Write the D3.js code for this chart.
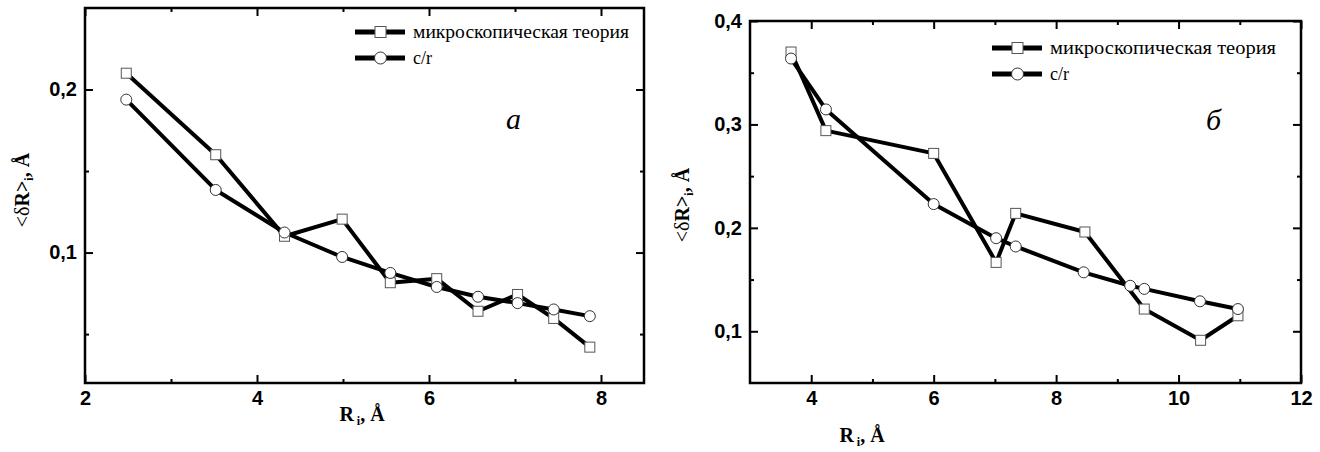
<!DOCTYPE html>
<html>
<head>
<meta charset="utf-8">
<script src="https://cdn.jsdelivr.net/npm/d3@7"></script>
<style>
  body { margin: 0; background: white; }
  svg { display: block; }
</style>
</head>
<body>
<svg id="chart" width="1320" height="452"></svg>
<script>
// panel a
const xA = [2.48, 3.52, 4.32, 4.99, 5.55, 6.09, 6.57, 7.03, 7.45, 7.87];
const microA = [0.210, 0.160, 0.110, 0.1205, 0.0815, 0.084, 0.064, 0.0743, 0.0596, 0.042];
const crA = [0.1938, 0.1384, 0.1123, 0.0973, 0.0875, 0.0789, 0.0729, 0.069, 0.0651, 0.061];

// panel b
const xMicroB = [3.67, 4.24, 6.0, 7.02, 7.34, 8.47, 9.44, 10.36, 10.97];
const microB = [0.370, 0.294, 0.272, 0.1666, 0.214, 0.196, 0.1215, 0.0913, 0.115];
const xCrB = [3.67, 4.24, 6.0, 7.02, 7.34, 8.45, 9.21, 9.44, 10.35, 10.97];
const crB = [0.3637, 0.3145, 0.223, 0.190, 0.182, 0.157, 0.144, 0.141, 0.129, 0.1215];

const legendLabels = ["микроскопическая теория", "c/r"];

const xTicksA = [2, 4, 6, 8], xMinorA = [3, 5, 7];
const yTicksA = [0.1, 0.2], yMinorA = [0.05, 0.15];
const xTicksB = [4, 6, 8, 10, 12], xMinorB = [5, 7, 9, 11];
const yTicksB = [0.1, 0.2, 0.3, 0.4], yMinorB = [0.15, 0.25, 0.35];

const svg = d3.select("#chart");
const fmt = d => d3.format(".1f")(d).replace(".", ",");

function drawPanel(p) {
    const g = svg.append("g");
    const x = d3.scaleLinear().domain(p.xDomain).range([p.left, p.right]);
    const y = d3.scaleLinear().domain(p.yDomain).range([p.bottom, p.top]);

    // axes with inward ticks
    const styleAxis = sel => {
        sel.select(".domain").remove();
        sel.selectAll("line").attr("stroke", "#000").attr("stroke-width", 2);
        sel.selectAll("text")
            .style("font-family", "'Liberation Sans', Arial, sans-serif")
            .style("font-weight", "bold")
            .style("font-size", "20px")
            .attr("fill", "#000");
    };

    g.append("g").attr("transform", `translate(0,${p.bottom})`)
        .call(d3.axisBottom(x).tickValues(p.xTicks).tickSize(-8).tickPadding(8).tickFormat(d3.format("d")))
        .call(styleAxis);
    g.append("g").attr("transform", `translate(0,${p.bottom})`)
        .call(d3.axisBottom(x).tickValues(p.xMinor).tickSize(-4).tickFormat(""))
        .call(styleAxis);
    g.append("g").attr("transform", `translate(0,${p.top})`)
        .call(d3.axisTop(x).tickValues(p.xTicks).tickSize(-8).tickFormat(""))
        .call(styleAxis);
    g.append("g").attr("transform", `translate(0,${p.top})`)
        .call(d3.axisTop(x).tickValues(p.xMinor).tickSize(-4).tickFormat(""))
        .call(styleAxis);
    g.append("g").attr("transform", `translate(${p.left},0)`)
        .call(d3.axisLeft(y).tickValues(p.yTicks).tickSize(-8).tickPadding(8).tickFormat(fmt))
        .call(styleAxis);
    g.append("g").attr("transform", `translate(${p.left},0)`)
        .call(d3.axisLeft(y).tickValues(p.yMinor).tickSize(-4).tickFormat(""))
        .call(styleAxis);
    g.append("g").attr("transform", `translate(${p.right},0)`)
        .call(d3.axisRight(y).tickValues(p.yTicks).tickSize(-8).tickFormat(""))
        .call(styleAxis);
    g.append("g").attr("transform", `translate(${p.right},0)`)
        .call(d3.axisRight(y).tickValues(p.yMinor).tickSize(-4).tickFormat(""))
        .call(styleAxis);

    // frame
    g.append("rect")
        .attr("x", p.left).attr("y", p.top)
        .attr("width", p.right - p.left).attr("height", p.bottom - p.top)
        .attr("fill", "none").attr("stroke", "#000").attr("stroke-width", 2.5);

    const line = d3.line().x(d => x(d[0])).y(d => y(d[1]));
    const microPts = p.xMicro.map((v, i) => [v, p.micro[i]]);
    const crPts = p.xCr.map((v, i) => [v, p.cr[i]]);

    g.append("path").datum(microPts).attr("d", line)
        .attr("fill", "none").attr("stroke", "#000").attr("stroke-width", 4).attr("stroke-linejoin", "round");
    g.append("path").datum(crPts).attr("d", line)
        .attr("fill", "none").attr("stroke", "#000").attr("stroke-width", 4).attr("stroke-linejoin", "round");

    g.selectAll("rect.sq").data(microPts).enter().append("rect")
        .attr("class", "sq")
        .attr("x", d => x(d[0]) - 5).attr("y", d => y(d[1]) - 5)
        .attr("width", 10).attr("height", 10)
        .attr("fill", "white").attr("stroke", "#555").attr("stroke-width", 1);
    g.selectAll("circle.ci").data(crPts).enter().append("circle")
        .attr("class", "ci")
        .attr("cx", d => x(d[0])).attr("cy", d => y(d[1])).attr("r", 5.5)
        .attr("fill", "white").attr("stroke", "#333").attr("stroke-width", 1);

    // legend
    const lg = g.append("g").attr("transform", `translate(${p.legX},${p.legY})`);
    [0, 1].forEach(i => {
        const yy = i * 26;
        lg.append("line").attr("x1", 0).attr("x2", 50).attr("y1", yy).attr("y2", yy)
            .attr("stroke", "#000").attr("stroke-width", 5);
        if (i === 0) {
            lg.append("rect").attr("x", 20).attr("y", yy - 5.5).attr("width", 11).attr("height", 11)
                .attr("fill", "white").attr("stroke", "#555").attr("stroke-width", 1);
        } else {
            lg.append("circle").attr("cx", 25.5).attr("cy", yy).attr("r", 6)
                .attr("fill", "white").attr("stroke", "#333").attr("stroke-width", 1);
        }
        const t = lg.append("text").attr("x", 58).attr("y", yy + 6)
            .style("font-family", "'Liberation Serif', 'Times New Roman', serif")
            .style("font-size", "18px")
            .text(legendLabels[i]);
        if (i === 0) t.attr("textLength", p.legW).attr("lengthAdjust", "spacingAndGlyphs");
    });

    // panel letter
    g.append("text").attr("x", p.letterX).attr("y", p.letterY)
        .style("font-family", "'Liberation Serif', 'Times New Roman', serif")
        .style("font-style", "italic")
        .style("font-size", "30px")
        .text(p.letter);

    // x title
    const xt = g.append("text").attr("x", p.xTitleX).attr("y", p.xTitleY)
        .attr("text-anchor", "middle")
        .style("font-family", "'Liberation Serif', 'Times New Roman', serif")
        .style("font-weight", "bold").style("font-size", "20px");
    xt.append("tspan").text("R");
    xt.append("tspan").attr("dy", 4).style("font-size", "12px").text(" i");
    xt.append("tspan").attr("dy", -4).text(", Å");

    // y title
    const yt = g.append("text")
        .attr("transform", `translate(${p.yTitleX},${p.yTitleY}) rotate(-90)`)
        .attr("text-anchor", "middle")
        .style("font-family", "'Liberation Serif', 'Times New Roman', serif")
        .style("font-weight", "bold").style("font-size", "20px");
    yt.append("tspan").style("font-weight", "normal").text("<δ");
    yt.append("tspan").text("R>");
    yt.append("tspan").attr("dy", 4).style("font-size", "12px").text("i");
    yt.append("tspan").attr("dy", -4).text(", Å");
}

drawPanel({
    xDomain: [2, 8.5], yDomain: [0.02, 0.25],
    left: 85, right: 644, top: 8, bottom: 383,
    xTicks: xTicksA, xMinor: xMinorA, yTicks: yTicksA, yMinor: yMinorA,
    xMicro: xA, micro: microA, xCr: xA, cr: crA,
    legX: 355, legY: 32, legW: 216,
    letter: "а", letterX: 506, letterY: 129,
    xTitleX: 362, xTitleY: 421, yTitleX: 29, yTitleY: 190
});

drawPanel({
    xDomain: [3, 12], yDomain: [0.05, 0.4],
    left: 750, right: 1301, top: 21, bottom: 383,
    xTicks: xTicksB, xMinor: xMinorB, yTicks: yTicksB, yMinor: yMinorB,
    xMicro: xMicroB, micro: microB, xCr: xCrB, cr: crB,
    legX: 992, legY: 48, legW: 226,
    letter: "б", letterX: 1206, letterY: 130,
    xTitleX: 862, xTitleY: 442, yTitleX: 689, yTitleY: 205
});
</script>
</body>
</html>
